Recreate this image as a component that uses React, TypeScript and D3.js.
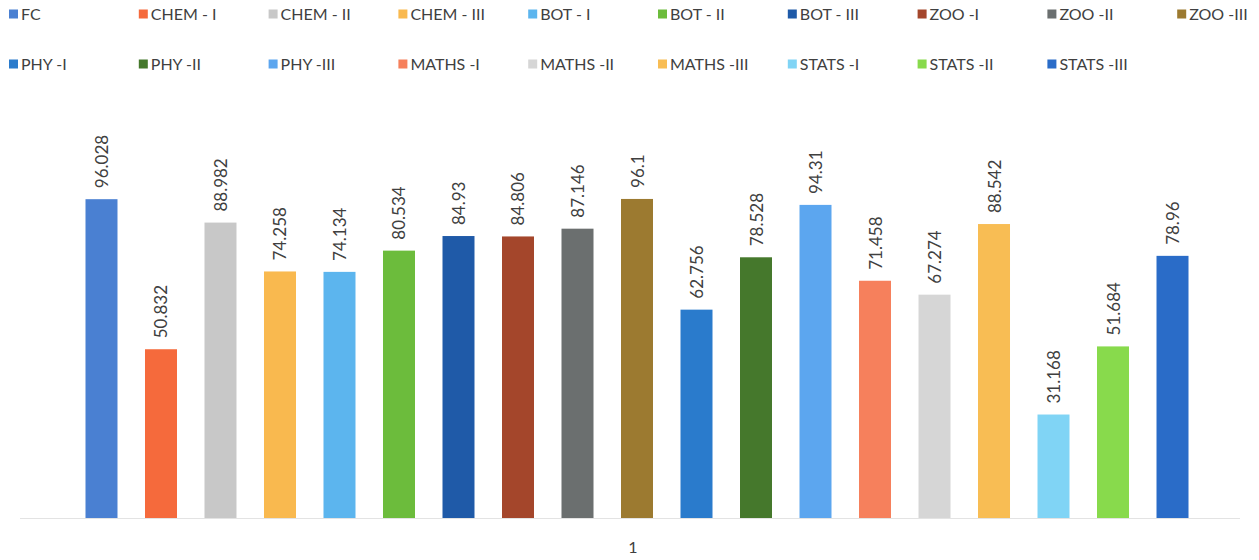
import React from "react";
import * as d3 from "d3";

const subjects = ["FC", "CHEM - I", "CHEM - II", "CHEM - III", "BOT - I", "BOT - II", "BOT - III", "ZOO -I", "ZOO -II", "ZOO -III", "PHY -I", "PHY -II", "PHY -III", "MATHS -I", "MATHS -II", "MATHS -III", "STATS -I", "STATS -II", "STATS -III"];
const values = [96.028, 50.832, 88.982, 74.258, 74.134, 80.534, 84.93, 84.806, 87.146, 96.1, 62.756, 78.528, 94.31, 71.458, 67.274, 88.542, 31.168, 51.684, 78.96];
const colors = ["#4a80d2", "#f56a3c", "#c8c8c8", "#f9b94f", "#5cb5ee", "#6cbc3c", "#1f5aa8", "#a4462b", "#6b6f6f", "#9c7a30", "#2a7bcc", "#45782c", "#5ca6ef", "#f6805c", "#d6d6d6", "#f8bd54", "#80d4f5", "#88da4c", "#2a6cc8"];
const categoryLabel = "1";

const W = 1259, H = 560;

export default function App() {
  const x = d3.scaleBand<string>().domain(subjects).range([71.75, 1202.25]).paddingInner(0.4622).paddingOuter(0.231);
  const y = d3.scaleLinear().domain([0, 100]).range([518, 186]);
  const font = "Lato, 'Open Sans', sans-serif";
  const legendX = (i: number) => 9 + (i % 10) * 129.8;
  const legendY = (i: number) => (i < 10 ? 14 : 64);
  return (
    <svg width={W} height={H} style={{ position: "absolute", left: 0, top: 0, background: "#fff" }} fontFamily={font}>
      <rect width={W} height={H} fill="#ffffff" />
      {subjects.map((s, i) => (
        <g key={"lg" + i}>
          <rect x={legendX(i)} y={legendY(i) - 4.5} width={9} height={9} fill={colors[i]} />
          <text x={legendX(i) + 12} y={legendY(i)} dy="0.36em" fontSize={16} fill="#404040">{s}</text>
        </g>
      ))}
      <line x1={20} x2={1240} y1={518.5} y2={518.5} stroke="#e3e3e3" strokeWidth={1} />
      {subjects.map((s, i) => (
        <rect key={"b" + i} x={x(s)} y={y(values[i])} width={x.bandwidth()} height={y(0) - y(values[i])} fill={colors[i]} />
      ))}
      {subjects.map((s, i) => {
        const cx = (x(s) as number) + x.bandwidth() / 2;
        const ty = y(values[i]) - 11;
        return (
          <text key={"l" + i} transform={`translate(${cx + 6.5},${ty}) rotate(-90)`} fontSize={17} fill="#404040" textAnchor="start">
            {String(values[i])}
          </text>
        );
      })}
      <text x={633} y={553} textAnchor="middle" fontSize={16} fill="#404040">{categoryLabel}</text>
    </svg>
  );
}
